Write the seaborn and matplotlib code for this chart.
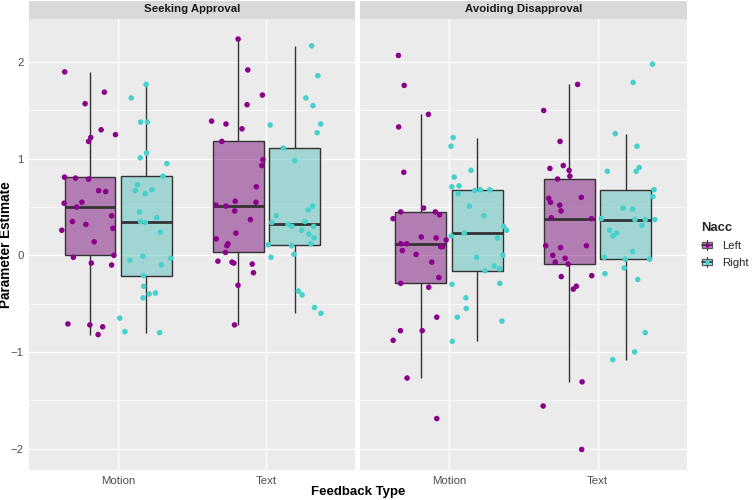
import numpy as np
import pandas as pd
import matplotlib.pyplot as plt
import seaborn as sns
from matplotlib.patches import Patch, Rectangle
from matplotlib.lines import Line2D
from matplotlib.legend_handler import HandlerBase
from matplotlib.ticker import MultipleLocator

# facets, categories and groups
goals = ["Seeking Approval", "Avoiding Disapproval"]
feedback = ["Motion", "Text"]
nacc = ["Left", "Right"]
colors = {"Left": "#8B008B", "Right": "#48D1CC"}

# parameter estimates (one value per subject)
sa_motion_left = [1.90, 1.69, 1.57, 1.30, 1.25, 1.22, 1.18, 0.81, 0.80, 0.79, 0.67, 0.66, 0.55, 0.54, 0.50,
                  0.41, 0.35, 0.32, 0.28, 0.26, 0.14, 0.00, -0.02, -0.08, -0.10, -0.71, -0.72, -0.74, -0.82]
sa_motion_right = [1.77, 1.63, 1.38, 1.38, 1.06, 1.01, 0.95, 0.82, 0.73, 0.68, 0.67, 0.64, 0.45, 0.39, 0.35,
                   0.34, 0.24, -0.01, -0.03, -0.05, -0.10, -0.21, -0.32, -0.39, -0.40, -0.44, -0.65, -0.79, -0.80]
sa_text_left = [2.24, 1.92, 1.66, 1.56, 1.39, 1.36, 1.31, 1.18, 0.99, 0.93, 0.71, 0.56, 0.55, 0.52, 0.51,
                0.46, 0.37, 0.23, 0.17, 0.12, 0.10, 0.03, -0.06, -0.07, -0.08, -0.09, -0.18, -0.31, -0.72]
sa_text_right = [2.17, 1.86, 1.63, 1.55, 1.36, 1.35, 1.27, 1.11, 0.98, 0.51, 0.47, 0.41, 0.35, 0.34, 0.32,
                 0.30, 0.30, 0.26, 0.22, 0.18, 0.12, 0.11, 0.10, 0.01, -0.02, -0.37, -0.41, -0.54, -0.60]
ad_motion_left = [2.07, 1.76, 1.46, 1.33, 0.86, 0.49, 0.45, 0.45, 0.42, 0.38, 0.19, 0.18, 0.16, 0.12, 0.12,
                  0.09, 0.09, 0.05, 0.01, -0.07, -0.23, -0.29, -0.33, -0.64, -0.78, -0.78, -0.88, -1.27, -1.69]
ad_motion_right = [1.22, 1.13, 0.88, 0.81, 0.72, 0.71, 0.68, 0.68, 0.67, 0.64, 0.51, 0.41, 0.30, 0.26, 0.23,
                   0.20, 0.18, 0.00, -0.02, -0.11, -0.14, -0.16, -0.29, -0.30, -0.44, -0.55, -0.64, -0.68, -0.89]
ad_text_left = [1.77, 1.50, 1.18, 0.93, 0.90, 0.88, 0.82, 0.79, 0.60, 0.59, 0.55, 0.52, 0.46, 0.39, 0.38,
                0.10, 0.10, 0.08, 0.00, -0.03, -0.07, -0.09, -0.21, -0.22, -0.32, -0.35, -1.31, -1.56, -2.01]
ad_text_right = [1.98, 1.79, 1.26, 1.13, 0.91, 0.87, 0.87, 0.68, 0.61, 0.49, 0.48, 0.38, 0.37, 0.37, 0.37,
                 0.31, 0.26, 0.23, 0.20, 0.04, -0.02, -0.04, -0.04, -0.13, -0.19, -0.25, -0.80, -1.00, -1.08]

groups = {
    ("Seeking Approval", "Motion", "Left"): sa_motion_left,
    ("Seeking Approval", "Motion", "Right"): sa_motion_right,
    ("Seeking Approval", "Text", "Left"): sa_text_left,
    ("Seeking Approval", "Text", "Right"): sa_text_right,
    ("Avoiding Disapproval", "Motion", "Left"): ad_motion_left,
    ("Avoiding Disapproval", "Motion", "Right"): ad_motion_right,
    ("Avoiding Disapproval", "Text", "Left"): ad_text_left,
    ("Avoiding Disapproval", "Text", "Right"): ad_text_right,
}
rows = []
for (g, f, n), vals in groups.items():
    for v in vals:
        rows.append((g, f, n, v))
df = pd.DataFrame(rows, columns=["Goal", "Feedback", "Nacc", "Estimate"])

sns.set_theme(style="darkgrid", rc={"axes.facecolor": "#EBEBEB", "grid.color": "white"})
plt.rcParams['font.family'] = ['Liberation Sans', 'DejaVu Sans']

W, H = 755, 500
fig = plt.figure(figsize=(W / 100, H / 100), dpi=100)


def rect(x0, y0, x1, y1):
    # pixel box -> figure fraction
    return [x0 / W, 1 - y1 / H, (x1 - x0) / W, (y1 - y0) / H]


panels = [(29.3, 355.3), (360.0, 686.7)]
top, bottom = 18.5, 470
lo, hi = df["Estimate"].min(), df["Estimate"].max()
pad = 0.05 * (hi - lo)

np.random.seed(7)
for i, (goal, (x0, x1)) in enumerate(zip(goals, panels)):
    ax = fig.add_axes(rect(x0, top, x1, bottom))
    sub = df[df["Goal"] == goal]
    sns.boxplot(data=sub, x="Feedback", y="Estimate", hue="Nacc", order=feedback, hue_order=nacc,
                palette=colors, width=0.76, gap=0.1, showfliers=False, showcaps=False,
                linecolor="#333333", linewidth=1.0,
                medianprops=dict(linewidth=2.0, color="#333333"), legend=False, ax=ax)
    for p in ax.patches:
        r, g, b, _ = p.get_facecolor()
        p.set_facecolor((r, g, b, 0.5))
    sns.stripplot(data=sub, x="Feedback", y="Estimate", hue="Nacc", order=feedback, hue_order=nacc,
                  palette=colors, dodge=True, jitter=0.38, size=4, linewidth=0, legend=False,
                  zorder=3, ax=ax)

    ax.set_xlim(-0.6, 1.6)
    ax.set_ylim(lo - pad, hi + pad)
    ax.set_facecolor("#EBEBEB")
    ax.yaxis.set_major_locator(MultipleLocator(1))
    ax.yaxis.set_minor_locator(MultipleLocator(0.5))
    ax.grid(which="major", axis="both", color="white", linewidth=1.0)
    ax.grid(which="minor", axis="y", color="white", linewidth=0.5)
    ax.set_axisbelow(True)
    for s in ax.spines.values():
        s.set_visible(False)
    ax.tick_params(axis="both", which="major", length=2.75, width=0.8, color="#333333",
                   labelsize=8.2, labelcolor="#4D4D4D", pad=1.5)
    ax.tick_params(axis="both", which="minor", length=0)
    ax.set_xlabel("")
    ax.set_ylabel("")
    if i > 0:
        ax.tick_params(axis="y", which="both", left=False, labelleft=False)

    # facet strip
    sax = fig.add_axes(rect(x0, 0.5, x1, top))
    sax.set_facecolor("#D9D9D9")
    sax.set_xticks([])
    sax.set_yticks([])
    for s in sax.spines.values():
        s.set_visible(False)
    sax.text(0.5, 0.5, goal, transform=sax.transAxes, ha="center", va="center",
             fontsize=8.2, fontweight="bold", color="#1A1A1A")

fig.text((panels[0][0] + panels[1][1]) / 2 / W, 1 - 492 / H, "Feedback Type",
         ha="center", va="center", fontsize=9.5, fontweight="bold", color="black")
fig.text(6.5 / W, 1 - (top + bottom) / 2 / H, "Parameter Estimate", rotation=90,
         ha="center", va="center", fontsize=9.8, fontweight="bold", color="black")


class BoxKey(HandlerBase):
    # small boxplot glyph like ggplot's legend key
    def create_artists(self, legend, orig_handle, xdescent, ydescent, width, height, fontsize, trans):
        x0, y0 = -xdescent, -ydescent
        cx, cy = x0 + width / 2, y0 + height / 2
        bg = Rectangle((x0, y0), width, height, facecolor="#F2F2F2", edgecolor="none", transform=trans)
        wl = Line2D([cx, cx], [y0, y0 + height], color="#333333", lw=0.8, transform=trans)
        bx = Rectangle((x0 + 0.1 * width, y0 + 0.22 * height), 0.8 * width, 0.56 * height,
                       facecolor=orig_handle.get_facecolor(), edgecolor="#555555", lw=0.8, transform=trans)
        md = Line2D([x0 + 0.1 * width, x0 + 0.9 * width], [cy, cy], color="#333333", lw=1.2, transform=trans)
        pt = Line2D([cx], [cy], marker="o", ms=3, mew=0, color=orig_handle.get_edgecolor(), transform=trans)
        return [bg, wl, bx, md, pt]


handles = []
for n in nacc:
    c = sns.color_palette([colors[n]])[0]
    handles.append(Patch(facecolor=(*c, 0.5), edgecolor=c, label=n))
leg = fig.legend(handles=handles, title="Nacc", loc="upper left", bbox_to_anchor=(699 / W, 1 - 220 / H),
                 frameon=False, fontsize=8.2, title_fontproperties={"weight": "bold", "size": 9.4},
                 handlelength=1.0, handleheight=1.0, handletextpad=0.8, labelspacing=0.5,
                 borderpad=0.2, borderaxespad=0, alignment="left", handler_map={Patch: BoxKey()})

fig.savefig("out.png", dpi=100)
